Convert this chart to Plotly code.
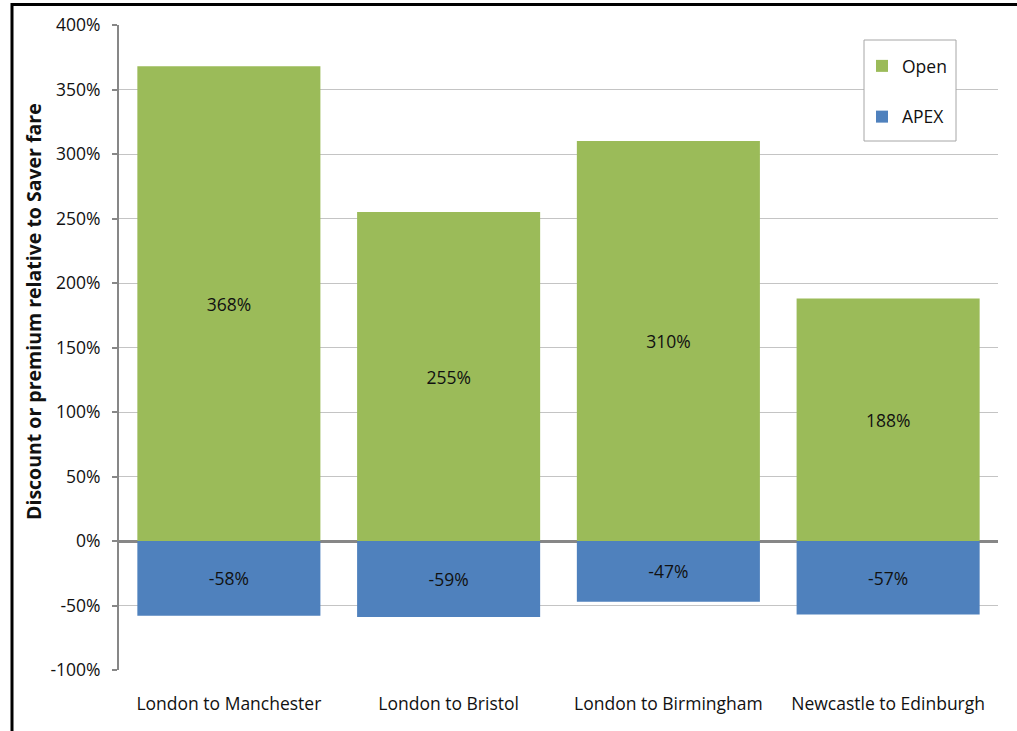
import plotly.graph_objects as go

# Fare comparison by route (percent relative to Saver fare)
routes = ["London to Manchester", "London to Bristol", "London to Birmingham", "Newcastle to Edinburgh"]
open_pct = [368, 255, 310, 188]
apex_pct = [-58, -59, -47, -57]
tick_vals = [-100, -50, 0, 50, 100, 150, 200, 250, 300, 350, 400]
tick_text = [f"{v}%" for v in tick_vals]

GREEN = "#9BBB59"
BLUE = "#4F81BD"
FONT = "'Open Sans', Lato, sans-serif"
FS = 17.5

fig = go.Figure()
fig.add_trace(go.Bar(
    x=routes, y=open_pct, name="Open", legendgroup="open",
    marker=dict(color=GREEN, line=dict(width=0)),
    texttemplate="%{y:.0f}%", textposition="inside", insidetextanchor="middle",
    textfont=dict(color="#111111", size=FS, family=FONT),
))
fig.add_trace(go.Bar(
    x=routes, y=apex_pct, name="APEX", legendgroup="apex",
    marker=dict(color=BLUE, line=dict(width=0)),
    texttemplate="%{y:.0f}%", textposition="inside", insidetextanchor="middle",
    textfont=dict(color="#111111", size=FS, family=FONT),
))

# plot-area pixel geometry helpers
L, R, T, B = 119, 998, 25, 670
W, H = R - L, B - T
def px_x(p):
    return (p - L) / W
def px_y(p):
    return (B - p) / H

fig.update_layout(
    width=1017, height=731,
    margin=dict(l=L, r=1017 - R, t=T, b=731 - B, autoexpand=False),
    paper_bgcolor="white", plot_bgcolor="white",
    barmode="relative", bargap=0.167,
    font=dict(family=FONT, size=FS, color="#111111"),
    showlegend=True,
    legend=dict(
        x=px_x(862), y=px_y(48), xanchor="left", yanchor="top",
        bgcolor="rgba(0,0,0,0)", borderwidth=0,
        font=dict(size=FS, family=FONT, color="#111111"),
        tracegroupgap=25, itemwidth=30,
    ),
    xaxis=dict(
        showgrid=False, showline=False, ticks="", zeroline=False,
        tickfont=dict(size=FS, family=FONT, color="#111111"),
        ticklabelstandoff=21,
    ),
    yaxis=dict(
        range=[-100, 400], tickmode="array", tickvals=tick_vals, ticktext=tick_text,
        showgrid=True, gridcolor="#C4C4C4", gridwidth=1,
        zeroline=True, zerolinecolor="#878787", zerolinewidth=3,
        showline=True, linecolor="#878787", linewidth=2,
        ticks="outside", ticklen=5, tickcolor="#878787", tickwidth=2,
        tickfont=dict(size=FS, family=FONT, color="#111111"),
        ticklabelstandoff=8,
    ),
    annotations=[dict(
        text="<b>Discount or premium relative to Saver fare</b>",
        xref="paper", yref="paper", x=px_x(33), y=px_y(312),
        textangle=-90, showarrow=False, xanchor="center", yanchor="middle",
        font=dict(size=19.5, family=FONT, color="#111111"),
    )],
    shapes=[
        # legend box
        dict(type="rect", xref="paper", yref="paper",
             x0=px_x(864), x1=px_x(956), y0=px_y(141), y1=px_y(40),
             line=dict(color="#A6A6A6", width=1), fillcolor="white", layer="above"),
        # outer chart border
        dict(type="rect", xref="paper", yref="paper",
             x0=px_x(12), x1=px_x(1100), y0=px_y(800), y1=px_y(4.5),
             line=dict(color="black", width=3), fillcolor="rgba(0,0,0,0)", layer="above"),
    ],
)

fig.write_html("out.html")
